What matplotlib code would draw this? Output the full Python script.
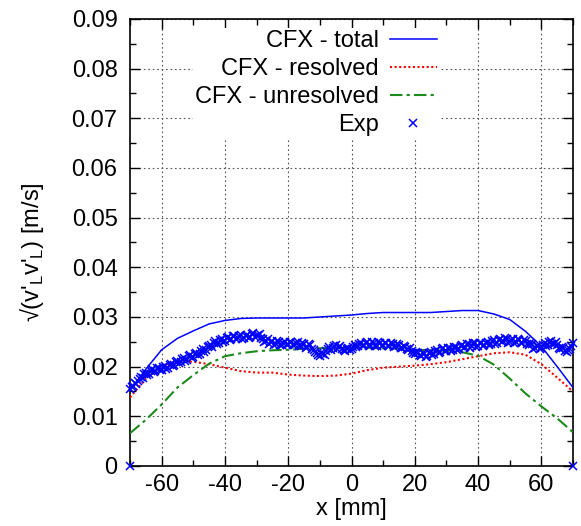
import matplotlib
matplotlib.use("Agg")
import matplotlib.pyplot as plt
from matplotlib.ticker import MultipleLocator, FuncFormatter

plt.rcParams['font.family'] = ['Liberation Sans', 'DejaVu Sans']
plt.rcParams['mathtext.fontset'] = 'custom'
plt.rcParams['mathtext.rm'] = 'Liberation Sans'
plt.rcParams['axes.unicode_minus'] = False

# CFX curves, read every 5 mm
cfx_x = [-70, -65, -60, -55, -50, -45, -40, -35, -30, -25, -20, -15, -10, -5, 0,
         5, 10, 15, 20, 25, 30, 35, 40, 45, 50, 55, 60, 65, 70]
cfx_total = [0.0152, 0.0195, 0.0234, 0.0257, 0.0272, 0.0286, 0.0293, 0.0297, 0.0298,
             0.0298, 0.0298, 0.0298, 0.0300, 0.0302, 0.0304, 0.0307, 0.0309, 0.0309,
             0.0309, 0.0309, 0.0311, 0.0313, 0.0313, 0.0306, 0.0295, 0.0271, 0.0241,
             0.0200, 0.0158]
cfx_resolved = [0.0138, 0.0176, 0.0200, 0.0210, 0.0210, 0.0205, 0.0198, 0.0191, 0.0188,
                0.0188, 0.0184, 0.0182, 0.0181, 0.0182, 0.0186, 0.0193, 0.0198, 0.0200,
                0.0202, 0.0205, 0.0209, 0.0215, 0.0221, 0.0227, 0.0229, 0.0224, 0.0205,
                0.0178, 0.0150]
cfx_unresolved = [0.0066, 0.0093, 0.0124, 0.0158, 0.0183, 0.0206, 0.0221, 0.0227, 0.0231,
                  0.0233, 0.0234, 0.0236, 0.0237, 0.0238, 0.0238, 0.0238, 0.0237, 0.0236,
                  0.0234, 0.0233, 0.0232, 0.0229, 0.0222, 0.0204, 0.0176, 0.0146, 0.0120,
                  0.0096, 0.0068]

# experiment, whole mm from -70 to 70
exp_x = list(range(-70, 71))
exp_v = [0.0155, 0.0162, 0.0166, 0.0175, 0.0178, 0.0188, 0.0185, 0.0195, 0.0191, 0.0198,
         0.0194, 0.0201, 0.0197, 0.0205, 0.0203, 0.0212, 0.0209, 0.0218, 0.0214, 0.0223,
         0.0220, 0.0228, 0.0226, 0.0235, 0.0233, 0.0241, 0.0240, 0.0251, 0.0247, 0.0256,
         0.0252, 0.0260, 0.0255, 0.0262, 0.0257, 0.0263, 0.0258, 0.0264, 0.0260, 0.0267,
         0.0262, 0.0266, 0.0255, 0.0252, 0.0246, 0.0251, 0.0245, 0.0250, 0.0244, 0.0250,
         0.0245, 0.0250, 0.0243, 0.0249, 0.0242, 0.0246, 0.0240, 0.0243, 0.0233, 0.0228,
         0.0222, 0.0226, 0.0231, 0.0240, 0.0237, 0.0243, 0.0239, 0.0236, 0.0232, 0.0238,
         0.0235, 0.0244, 0.0241, 0.0248, 0.0243, 0.0249, 0.0244, 0.0248, 0.0242, 0.0247,
         0.0243, 0.0248, 0.0242, 0.0246, 0.0241, 0.0244, 0.0238, 0.0240, 0.0233, 0.0232,
         0.0225, 0.0228, 0.0221, 0.0226, 0.0222, 0.0229, 0.0226, 0.0234, 0.0230, 0.0237,
         0.0232, 0.0238, 0.0233, 0.0240, 0.0236, 0.0243, 0.0239, 0.0246, 0.0241, 0.0247,
         0.0242, 0.0248, 0.0243, 0.0249, 0.0245, 0.0253, 0.0248, 0.0256, 0.0251, 0.0255,
         0.0249, 0.0255, 0.0250, 0.0254, 0.0248, 0.0251, 0.0243, 0.0246, 0.0237, 0.0242,
         0.0238, 0.0247, 0.0244, 0.0251, 0.0246, 0.0243, 0.0235, 0.0237, 0.0230, 0.0236,
         0.0247]
# experiment, half mm positions -69.5 .. 69.5
exp_x_half = [k + 0.5 for k in range(-70, 70)]
exp_v_half = [0.0160, 0.0168, 0.0172, 0.0180, 0.0186, 0.0183, 0.0192, 0.0189, 0.0197, 0.0193,
              0.0199, 0.0196, 0.0203, 0.0201, 0.0209, 0.0207, 0.0215, 0.0212, 0.0221, 0.0218,
              0.0226, 0.0224, 0.0232, 0.0230, 0.0239, 0.0244, 0.0248, 0.0245, 0.0254, 0.0250,
              0.0258, 0.0254, 0.0261, 0.0256, 0.0262, 0.0256, 0.0262, 0.0258, 0.0265, 0.0259,
              0.0264, 0.0258, 0.0249, 0.0255, 0.0249, 0.0244, 0.0252, 0.0243, 0.0248, 0.0243,
              0.0249, 0.0244, 0.0248, 0.0241, 0.0248, 0.0238, 0.0245, 0.0236, 0.0230, 0.0224,
              0.0228, 0.0224, 0.0236, 0.0234, 0.0241, 0.0236, 0.0241, 0.0233, 0.0236, 0.0233,
              0.0240, 0.0239, 0.0246, 0.0241, 0.0247, 0.0242, 0.0250, 0.0241, 0.0249, 0.0241,
              0.0247, 0.0241, 0.0247, 0.0240, 0.0246, 0.0237, 0.0242, 0.0235, 0.0237, 0.0228,
              0.0230, 0.0223, 0.0227, 0.0220, 0.0227, 0.0224, 0.0231, 0.0228, 0.0235, 0.0231,
              0.0237, 0.0231, 0.0239, 0.0234, 0.0241, 0.0237, 0.0245, 0.0238, 0.0248, 0.0240,
              0.0247, 0.0241, 0.0248, 0.0243, 0.0251, 0.0246, 0.0254, 0.0249, 0.0257, 0.0247,
              0.0253, 0.0248, 0.0256, 0.0247, 0.0253, 0.0245, 0.0248, 0.0236, 0.0241, 0.0236,
              0.0244, 0.0242, 0.0249, 0.0245, 0.0250, 0.0238, 0.0240, 0.0231, 0.0234, 0.0241]
# the two wall points sitting on zero
exp_wall_x = [-70, 70]
exp_wall_v = [0.0, 0.0]

fig = plt.figure(figsize=(5.81, 5.26), dpi=100)
ax = fig.add_axes([0.2238, 0.1141, 0.7624, 0.8498])

ax.plot(cfx_x, cfx_total, color='#0000ff', lw=1.1, label='CFX - total', zorder=4)
ax.plot(cfx_x, cfx_resolved, color='#ff0000', lw=1.5, ls=(0, (1, 1.2)),
        label='CFX - resolved', zorder=4)
ax.plot(cfx_x, cfx_unresolved, color='#1a8a1a', lw=1.5, ls=(0, (6, 2, 1.5, 2)),
        label='CFX - unresolved', zorder=4)
ax.plot(exp_x + exp_x_half + exp_wall_x, exp_v + exp_v_half + exp_wall_v, ls='none',
        marker='x', ms=6, mew=1.1, color='#0000ff', label='Exp', zorder=5, clip_on=False)

ax.set_xlim(-70, 70)
ax.set_ylim(0, 0.09)
ax.xaxis.set_major_locator(MultipleLocator(20))
ax.xaxis.set_minor_locator(MultipleLocator(10))
ax.yaxis.set_major_locator(MultipleLocator(0.01))
ax.yaxis.set_minor_locator(MultipleLocator(0.005))
ax.yaxis.set_major_formatter(FuncFormatter(lambda v, p: f"{v:.2f}" if abs(v) > 1e-9 else "0"))

ax.tick_params(which='both', direction='in', top=True, right=True, labelsize=17, width=1)
ax.tick_params(axis='y', which='major', length=7, pad=9)
ax.tick_params(axis='x', which='major', length=7, pad=6)
ax.tick_params(which='minor', length=4)
for s in ax.spines.values():
    s.set_linewidth(1.2)

ax.grid(True, which='major', color='#555555', ls=(0, (1.5, 2.5)), lw=0.8)
ax.set_axisbelow(True)

ax.set_xlabel('x [mm]', fontsize=17, labelpad=1)
ax.set_ylabel(r"√(v$'_\mathregular{L}$v$'_\mathregular{L}$) [m/s]", fontsize=17)
ax.yaxis.set_label_coords(-0.19, 0.479)

leg = ax.legend(loc='upper right', bbox_to_anchor=(0.698, 0.980), markerfirst=False,
                frameon=True, fontsize=17, handlelength=2.0, labelspacing=0.25,
                borderpad=0.1, borderaxespad=0, handletextpad=0.45)
leg.get_frame().set_facecolor('white')
leg.get_frame().set_edgecolor('none')
leg.get_frame().set_alpha(1)
for t in leg.get_texts():
    t.set_ha('right')

fig.savefig('out.png', dpi=100)
